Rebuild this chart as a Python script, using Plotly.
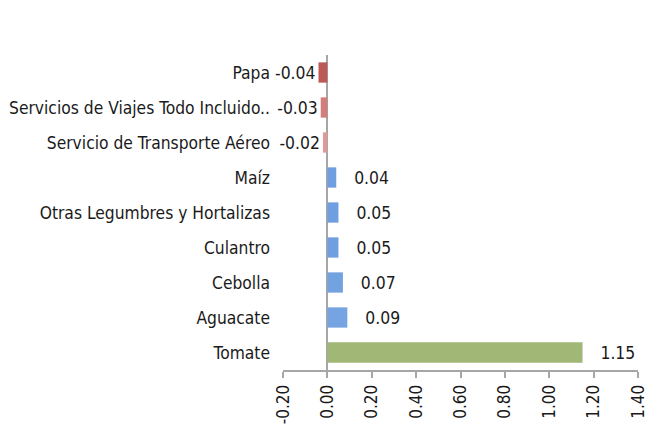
import plotly.graph_objects as go

categories = ['Papa', 'Servicios de Viajes Todo Incluido..', 'Servicio de Transporte Aéreo',
              'Maíz', 'Otras Legumbres y Hortalizas', 'Culantro', 'Cebolla', 'Aguacate', 'Tomate']
values = [-0.04, -0.03, -0.02, 0.04, 0.05, 0.05, 0.07, 0.09, 1.15]
bar_colors = ['#bb5957', '#d27e7c', '#dc9a99', '#6f9fe0', '#6f9fe0', '#6f9fe0',
              '#73a2e1', '#76a4e2', '#a0b775']
tick_vals = [-0.2, 0.0, 0.2, 0.4, 0.6, 0.8, 1.0, 1.2, 1.4]
tick_text = ['-0.20', '0.00', '0.20', '0.40', '0.60', '0.80', '1.00', '1.20', '1.40']

labels = []
for v in values:
    if v < 0:
        labels.append('%.2f' % v)
    else:
        labels.append('\u00a0\u00a0\u00a0%.2f' % v)

font = 'DejaVu Sans Condensed, Tahoma, sans-serif'

fig = go.Figure()
fig.add_trace(go.Bar(
    x=values,
    y=categories,
    orientation='h',
    width=0.58,
    marker=dict(color=bar_colors, line=dict(width=0)),
    text=labels,
    textposition='outside',
    textfont=dict(size=18, color='#1a1a1a', family=font),
    cliponaxis=False,
))

fig.update_layout(
    width=647,
    height=430,
    margin=dict(l=283, r=9, t=55, b=60),
    paper_bgcolor='white',
    plot_bgcolor='white',
    showlegend=False,
    font=dict(family=font, size=17, color='#1a1a1a'),
    xaxis=dict(
        range=[-0.2, 1.4],
        tickvals=tick_vals,
        ticktext=tick_text,
        tickangle=-90,
        showgrid=False,
        zeroline=True,
        zerolinecolor='#a6a6a6',
        zerolinewidth=2,
        showline=True,
        linecolor='#a6a6a6',
        linewidth=2,
        ticks='outside',
        ticklen=6,
        tickcolor='#a6a6a6',
        tickwidth=2,
        tickfont=dict(size=17),
        ticklabeloverflow='allow',
        automargin=False,
    ),
    yaxis=dict(
        autorange='reversed',
        showgrid=False,
        showline=False,
        ticks='',
        ticklabelstandoff=12,
        tickfont=dict(size=17.3),
        automargin=False,
    ),
)

# drop the default body margin so the figure fills the window exactly
fig.write_html('out.html',
               config={'displayModeBar': False},
               post_script="document.body.style.margin='0';document.body.style.overflow='hidden';")
